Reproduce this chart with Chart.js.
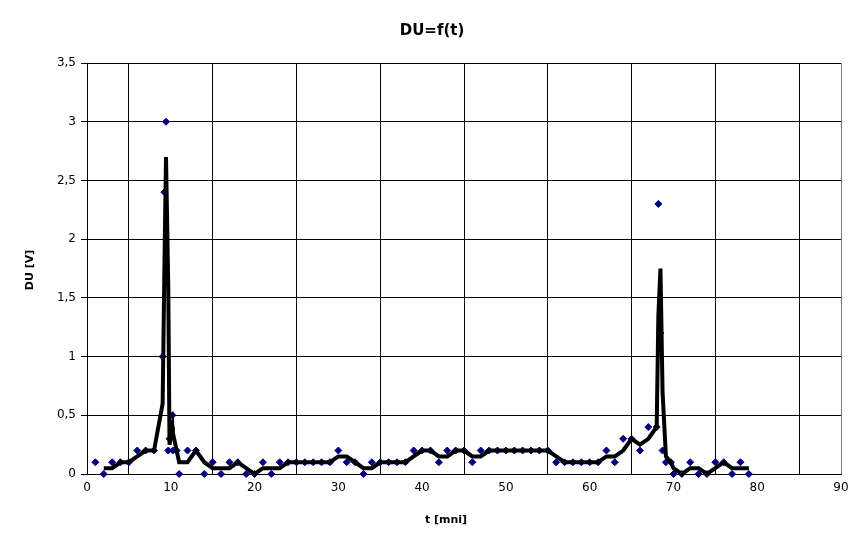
<!DOCTYPE html>
<html>
<head>
<meta charset="utf-8">
<title>DU=f(t)</title>
<script src="https://cdn.jsdelivr.net/npm/chart.js@4.4.1/dist/chart.umd.min.js"></script>
<style>
  html, body { margin: 0; padding: 0; background: #fff; }
</style>
</head>
<body>
<canvas id="duChart" width="866" height="548"></canvas>
<script>
// measured time [min] and voltage drop [V]
const tValues = [
  1, 2, 3, 4, 5, 6, 7, 8,
  9.03, 9.23, 9.43, 9.7, 9.85, 10.2, 10.25, 10.7, 11,
  12, 13, 14, 15, 16, 17, 18, 19, 20, 21, 22, 23, 24, 25, 26, 27, 28, 29, 30,
  31, 32, 33, 34, 35, 36, 37, 38, 39, 40, 41, 42, 43, 44, 45, 46, 47, 48, 49, 50,
  51, 52, 53, 54, 55, 56, 57, 58, 59, 60, 61, 62, 63, 64, 65, 66, 67, 68,
  68.2, 68.45, 68.7, 69.1, 69.7,
  70, 71, 72, 73, 74, 75, 76, 77, 78, 79
];
const duValues = [
  0.1, 0, 0.1, 0.1, 0.1, 0.2, 0.2, 0.2,
  1.0, 2.4, 3.0, 0.2, 0.3, 0.5, 0.2, 0.2, 0,
  0.2, 0.2, 0, 0.1, 0, 0.1, 0.1, 0, 0, 0.1, 0, 0.1, 0.1, 0.1, 0.1, 0.1, 0.1, 0.1, 0.2,
  0.1, 0.1, 0, 0.1, 0.1, 0.1, 0.1, 0.1, 0.2, 0.2, 0.2, 0.1, 0.2, 0.2, 0.2, 0.1, 0.2, 0.2, 0.2, 0.2,
  0.2, 0.2, 0.2, 0.2, 0.2, 0.1, 0.1, 0.1, 0.1, 0.1, 0.1, 0.2, 0.1, 0.3, 0.3, 0.2, 0.4, 0.4,
  2.3, 1.2, 0.2, 0.1, 0.1,
  0, 0, 0.1, 0, 0, 0.1, 0.1, 0, 0.1, 0
];

const xMin = 0, xMax = 90, xStep = 5, xLabelEvery = 10;
const yMin = 0, yMax = 3.5, yStep = 0.5;

const chartTitle = 'DU=f(t)';
const xTitle = 't [mni]';
const yTitle = 'DU [V]';

const FONT = "'DejaVu Sans', Verdana, sans-serif";
Chart.defaults.font.family = FONT;
Chart.defaults.color = '#000';

// 2-period moving average trendline (like the spreadsheet trendline)
function movingAverage(xs, ys, period) {
  const out = [];
  for (let i = period - 1; i < ys.length; i++) {
    let sum = 0;
    for (let k = 0; k < period; k++) sum += ys[i - k];
    out.push({ x: xs[i], y: sum / period });
  }
  return out;
}

// title + axis titles, placed like in the original sheet export
const chartTexts = {
  id: 'chartTexts',
  afterDraw(chart) {
    const ctx = chart.ctx;
    ctx.save();
    ctx.fillStyle = '#000';
    ctx.textAlign = 'center';
    ctx.textBaseline = 'middle';
    ctx.font = 'bold 15px ' + FONT;
    ctx.fillText(chartTitle, 432, 31);
    ctx.font = 'bold 11px ' + FONT;
    ctx.fillText(xTitle, 446, 520);
    ctx.translate(30, 270);
    ctx.rotate(-Math.PI / 2);
    ctx.fillText(yTitle, 0, 0);
    ctx.restore();
  }
};

const points = tValues.map((t, i) => ({ x: t, y: duValues[i] }));

new Chart(document.getElementById('duChart'), {
  type: 'scatter',
  data: {
    datasets: [
      {
        label: 'trend',
        data: movingAverage(tValues, duValues, 2),
        showLine: true,
        borderColor: '#000',
        borderWidth: 4,
        pointRadius: 0,
        tension: 0,
        clip: false,
        order: 0
      },
      {
        label: 'DU',
        data: points,
        pointStyle: 'rectRot',
        pointRadius: 3.5,
        backgroundColor: '#000080',
        borderColor: '#000080',
        borderWidth: 1,
        clip: false,
        order: 1
      }
    ]
  },
  plugins: [chartTexts],
  options: {
    responsive: false,
    animation: false,
    layout: { padding: { left: 0, right: 25, top: 63, bottom: 0 } },
    plugins: {
      legend: { display: false },
      tooltip: { enabled: false },
      title: { display: false }
    },
    scales: {
      x: {
        type: 'linear',
        min: xMin,
        max: xMax,
        afterFit: (scale) => { scale.height = 74; },
        ticks: {
          stepSize: xStep,
          autoSkip: false,
          maxRotation: 0,
          padding: 7,
          color: '#000',
          font: { size: 12 },
          callback: (v) => (v % xLabelEvery === 0 ? String(v) : '')
        },
        grid: {
          drawTicks: false,
          lineWidth: 1,
          color: (ctx) => {
            const v = ctx.tick ? ctx.tick.value : 0;
            if (v === xMax) return '#808080';
            return v % xLabelEvery === xStep ? '#000' : 'rgba(0,0,0,0)';
          }
        },
        border: { color: '#000', width: 1 }
      },
      y: {
        min: yMin,
        max: yMax,
        afterFit: (scale) => { scale.width = 87; },
        ticks: {
          stepSize: yStep,
          padding: 5,
          color: '#000',
          font: { size: 12 },
          callback: (v) => String(v).replace('.', ',')
        },
        grid: {
          color: '#000',
          lineWidth: 1,
          tickColor: '#000',
          tickLength: 6
        },
        border: { color: '#000', width: 1 }
      }
    }
  }
});
</script>
</body>
</html>
